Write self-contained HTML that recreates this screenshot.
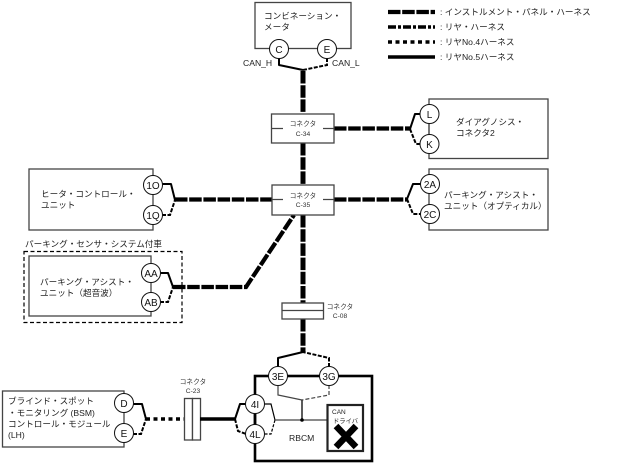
<!DOCTYPE html>
<html><head><meta charset="utf-8"><style>
html,body{margin:0;padding:0;background:#fff;width:618px;height:466px;overflow:hidden}
svg{display:block}
text{font-family:"Liberation Sans","Noto Sans CJK JP",sans-serif;font-size:8.6px;fill:#222}
.s{font-size:6.7px;text-anchor:middle;fill:#333}
.box{fill:#fff;stroke:#444;stroke-width:1.3}
.c{fill:#fff;stroke:#111;stroke-width:1}
.ct{font-size:10px;text-anchor:middle;fill:#111}
.ip{fill:none;stroke:#000;stroke-width:4.2;stroke-dasharray:12.5 1.7}
.v{stroke-width:5}
.r{fill:none;stroke:#000;stroke-width:3.6;stroke-dasharray:8 2 3 2}
.r4{fill:none;stroke:#000;stroke-width:3.6;stroke-dasharray:4 3.5}
.r5{fill:none;stroke:#000;stroke-width:3.6}
.t{fill:none;stroke:#000;stroke-width:2;stroke-linejoin:round}
.d{fill:none;stroke:#000;stroke-width:2;stroke-dasharray:4 1.5}
.g{fill:none;stroke:#444;stroke-width:1.2}
</style></head><body>
<svg width="618" height="466" viewBox="0 0 618 466" xmlns="http://www.w3.org/2000/svg">
<!-- legend -->
<line class="ip" x1="388" y1="12" x2="435" y2="12"/>
<line class="r" x1="388" y1="27" x2="435" y2="27"/>
<line class="r4" x1="388" y1="42" x2="435" y2="42"/>
<line class="r5" x1="388" y1="57" x2="435" y2="57"/>
<text x="440" y="15">: インストルメント・パネル・ハーネス</text>
<text x="440" y="30">: リヤ・ハーネス</text>
<text x="440" y="45">: リヤNo.4ハーネス</text>
<text x="440" y="60">: リヤNo.5ハーネス</text>

<!-- main vertical -->
<line class="ip v" x1="303" y1="71" x2="303" y2="114"/>
<line class="ip v" x1="303" y1="143" x2="303" y2="185"/>
<line class="ip v" x1="303" y1="215" x2="303" y2="303"/>
<line class="ip v" x1="303" y1="319" x2="303" y2="352"/>
<line class="ip" x1="334" y1="128.5" x2="410" y2="128.5"/>
<line class="ip" x1="334" y1="199.5" x2="407" y2="199.5"/>
<line class="ip" x1="175" y1="199.5" x2="272" y2="199.5"/>
<polyline class="ip" points="173,287 246,287 294,215"/>

<!-- combination meter -->
<rect class="box" x="255" y="2.5" width="96" height="46"/>
<text x="264" y="19">コンビネーション・</text>
<text x="264" y="30">メータ</text>
<polyline class="t" points="279,58 279,65 303,70"/>
<polyline class="d" points="327,58 327,65 303,70"/>
<circle class="c" cx="279" cy="49" r="9.5"/><text class="ct" x="279" y="53">C</text>
<circle class="c" cx="327" cy="49" r="9.5"/><text class="ct" x="327" y="53">E</text>
<text x="243" y="66">CAN_H</text>
<text x="332" y="66">CAN_L</text>

<!-- C-34 -->
<rect class="box" x="271.5" y="114" width="62.5" height="29"/>
<path class="g" d="M272 128.5H283M323 128.5H334"/>
<text class="s" x="303" y="126">コネクタ</text><text class="s" x="303" y="136">C-34</text>
<!-- C-35 -->
<rect class="box" x="272" y="185" width="62" height="30"/>
<path class="g" d="M272 199.5H283M323 199.5H334"/>
<text class="s" x="303" y="198">コネクタ</text><text class="s" x="303" y="207">C-35</text>
<!-- C-08 -->
<rect class="box" x="282" y="303" width="41.5" height="16"/>
<line class="g" x1="282" y1="310.5" x2="323.5" y2="310.5"/>
<text class="s" x="340" y="309">コネクタ</text><text class="s" x="340" y="318">C-08</text>

<!-- diag connector -->
<rect class="box" x="429" y="99" width="119" height="59.5"/>
<polyline class="t" points="410,129 415,114 421,114"/>
<polyline class="d" points="410,129 416,144 421,144"/>
<line class="g" x1="429" y1="114" x2="429" y2="144"/>
<circle class="c" cx="429.5" cy="114" r="9.5"/><text class="ct" x="429.5" y="118">L</text>
<circle class="c" cx="429.5" cy="144" r="9.5"/><text class="ct" x="429.5" y="148">K</text>
<text x="456" y="125">ダイアグノシス・</text>
<text x="456" y="136">コネクタ2</text>

<!-- parking optical -->
<rect class="box" x="429" y="169" width="119" height="61"/>
<polyline class="t" points="407,199 413,184 421,184"/>
<polyline class="d" points="407,199 413,214 421,214"/>
<circle class="c" cx="430" cy="184" r="9.5"/><text class="ct" x="430" y="188">2A</text>
<circle class="c" cx="430" cy="214" r="9.5"/><text class="ct" x="430" y="218">2C</text>
<text x="444" y="198">パーキング・アシスト・</text>
<text x="444" y="209">ユニット（オプティカル）</text>

<!-- heater -->
<rect class="box" x="29" y="169" width="124" height="61"/>
<polyline class="t" points="162,184 171,184 175,200"/>
<polyline class="d" points="162,215 170,215 175,200"/>
<circle class="c" cx="153" cy="185" r="9.5"/><text class="ct" x="153" y="189">1O</text>
<circle class="c" cx="153" cy="215" r="9.5"/><text class="ct" x="153" y="219">1Q</text>
<text x="41" y="197">ヒータ・コントロール・</text>
<text x="41" y="208">ユニット</text>

<!-- parking sonar -->
<text x="25" y="247">パーキング・センサ・システム付車</text>
<rect x="24" y="251.5" width="158" height="71" fill="none" stroke="#000" stroke-width="1.2" stroke-dasharray="4 2.5"/>
<rect class="box" x="29" y="256" width="122" height="60" stroke-width="1.5"/>
<polyline class="t" points="160,273 168,273 173,287"/>
<polyline class="d" points="160,302 168,302 173,287"/>
<circle class="c" cx="151" cy="273" r="9.5"/><text class="ct" x="151" y="277">AA</text>
<circle class="c" cx="151" cy="302" r="9.5"/><text class="ct" x="151" y="306">AB</text>
<text x="40" y="285">パーキング・アシスト・</text>
<text x="40" y="296">ユニット（超音波）</text>

<!-- BSM -->
<rect class="box" x="2.5" y="391" width="121.5" height="56"/>
<polyline class="t" points="133,404 142,404 146,419"/>
<polyline class="d" points="133,434 141,434 146,419"/>
<line class="r4" x1="146" y1="419" x2="184" y2="419"/>
<circle class="c" cx="124" cy="403" r="9.5"/><text class="ct" x="124" y="407">D</text>
<circle class="c" cx="124" cy="433" r="9.5"/><text class="ct" x="124" y="437">E</text>
<text x="8" y="404">ブラインド・スポット</text>
<text x="8" y="416">・モニタリング (BSM)</text>
<text x="8" y="427">コントロール・モジュール</text>
<text x="8" y="438">(LH)</text>

<!-- C-23 -->
<rect class="box" x="184.5" y="398.5" width="8" height="41.5"/>
<rect class="box" x="192.5" y="398.5" width="8" height="41.5"/>
<text class="s" x="193" y="384">コネクタ</text><text class="s" x="193" y="393">C-23</text>
<line class="r5" x1="200" y1="419" x2="235" y2="419" stroke-width="4.5"/>

<!-- RBCM -->
<polyline class="t" points="278,367 278,358 303,352"/>
<polyline class="d" points="329,367 329,358 303,352"/>
<rect x="255" y="376" width="117" height="85" fill="#fff" stroke="#000" stroke-width="2.6"/>
<polyline class="t" points="246,404 240,404 235,419"/>
<polyline class="d" points="235,419 238,431 246,434"/>
<polyline points="264,404 271,404 275,420" fill="none" stroke="#000" stroke-width="1.2"/>
<polyline points="275,420 271,434 264,434" fill="none" stroke="#000" stroke-width="1.2" stroke-dasharray="3 1.5"/>
<polyline class="g" points="278,385 278,395 302,400"/>
<polyline class="g" points="329,385 329,395 302,400" stroke-dasharray="4 2"/>
<line x1="302" y1="400" x2="302" y2="420" stroke="#333" stroke-width="1.6"/>
<line class="g" x1="275" y1="420" x2="328" y2="420"/>
<circle cx="302" cy="420" r="1.8" fill="#000"/>
<rect x="327.5" y="405" width="35.5" height="46" fill="#fff" stroke="#222" stroke-width="2.2"/>
<text x="332" y="414" style="font-size:6.5px">CAN</text>
<text x="333" y="423" style="font-size:6.3px">ドライバ</text>
<path d="M336 426L356 447M356 426L336 447" stroke="#000" stroke-width="6.5" fill="none"/>
<text x="289" y="441">RBCM</text>
<line x1="255" y1="404" x2="255" y2="434" stroke="#000" stroke-width="2.6"/>
<circle class="c" cx="278" cy="376" r="9.5"/><text class="ct" x="278" y="380">3E</text>
<circle class="c" cx="329" cy="376" r="9.5"/><text class="ct" x="329" y="380">3G</text>
<circle class="c" cx="255" cy="404" r="9.5"/><text class="ct" x="255" y="408">4I</text>
<circle class="c" cx="255" cy="434" r="9.5"/><text class="ct" x="255" y="438">4L</text>
</svg>
</body></html>
